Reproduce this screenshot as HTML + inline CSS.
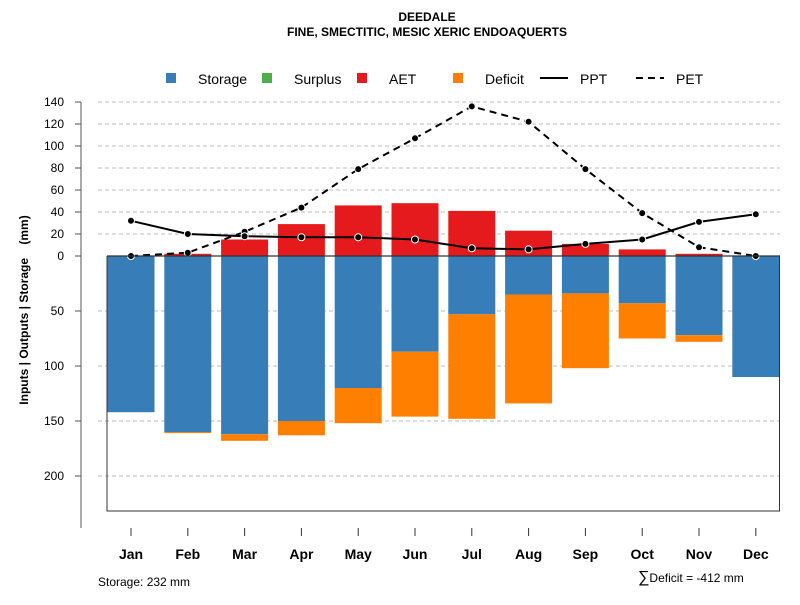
<!DOCTYPE html>
<html><head><meta charset="utf-8"><style>
body{margin:0;background:#fff;}
svg{font-family:"Liberation Sans",Arial,sans-serif;}
</style></head><body>
<svg id="chart" width="800" height="600" viewBox="0 0 800 600">
<text x="427" y="21" text-anchor="middle" font-size="12" font-weight="bold">DEEDALE</text>
<text x="427" y="36" text-anchor="middle" font-size="12" font-weight="bold">FINE, SMECTITIC, MESIC XERIC ENDOAQUERTS</text>
<g id="legend">
<g><rect x="166" y="73" width="10" height="10" fill="#377EB8"/><text x="198" y="84" font-size="14">Storage</text></g>
<g><rect x="262" y="73" width="10" height="10" fill="#4DAF4A"/><text x="294" y="84" font-size="14">Surplus</text></g>
<g><rect x="357" y="73" width="10" height="10" fill="#E41A1C"/><text x="389" y="84" font-size="14">AET</text></g>
<g><rect x="453" y="73" width="10" height="10" fill="#FF7F00"/><text x="485" y="84" font-size="14">Deficit</text></g>
<g><line x1="540" y1="78" x2="568" y2="78" stroke="#000" stroke-width="2"/><text x="580" y="84" font-size="14">PPT</text></g>
<g><line x1="636" y1="78" x2="664" y2="78" stroke="#000" stroke-width="2" stroke-dasharray="7,5"/><text x="676" y="84" font-size="14">PET</text></g>
</g>
<g id="grid"></g><g id="bars"></g><g id="lines"></g><g id="axes"></g>
<text transform="translate(28,310) rotate(-90)" text-anchor="middle" font-size="12" font-weight="bold">Inputs | Outputs | Storage &#160;&#160; (mm)</text>
<text x="98" y="586" font-size="12">Storage: 232 mm</text>
<text x="638" y="582" font-size="12"><tspan font-size="16">∑</tspan>Deficit = -412 mm</text>
</svg>
<script>
const months=["Jan","Feb","Mar","Apr","May","Jun","Jul","Aug","Sep","Oct","Nov","Dec"];
const storage=[142,160,162,150,120,87,53,35,34,43,72,110];
const deficit=[0,1,6,13,32,59,95,99,68,32,6,0];
const aet=[0,2,15,29,46,48,41,23,11,6,2,0];
const ppt=[32,20,18,17,17,15,7,6,11,15,31,38];
const pet=[0,3,22,44,79,107,136,122,79,39,8,0];
const upperTicks=[0,20,40,60,80,100,120,140];
const lowerTicks=[50,100,150,200];
const NS="http://www.w3.org/2000/svg";
const y0=256,k=1.1;
function yUp(v){return y0-v*k;}
function yDn(v){return y0+v*k;}
function xC(i){return 131+i*56.8;}
const bw=47;
function mk(t,a,p){const e=document.createElementNS(NS,t);for(const n in a)e.setAttribute(n,a[n]);document.getElementById(p).appendChild(e);return e;}
// grid
upperTicks.concat([]).forEach(v=>{if(v>0){const l=mk('line',{x1:98,x2:780,y1:yUp(v),y2:yUp(v),stroke:'#bbb','stroke-dasharray':'4,3'},'grid');

}});
lowerTicks.forEach(v=>{const l=mk('line',{x1:98,x2:780,y1:yDn(v),y2:yDn(v),stroke:'#bbb','stroke-dasharray':'4,3'},'grid');

});
// bars
months.forEach((m,i)=>{
 const x=xC(i)-bw/2;
 const s=mk('rect',{x:x,y:y0,width:bw,height:storage[i]*k,fill:'#377EB8'},'bars');
 
 
 if(deficit[i]>0){const d=mk('rect',{x:x,y:yDn(storage[i]),width:bw,height:deficit[i]*k,fill:'#FF7F00'},'bars');
 
 }
 if(aet[i]>0){const a=mk('rect',{x:x,y:yUp(aet[i]),width:bw,height:aet[i]*k,fill:'#E41A1C'},'bars');
 
 }
});
// box and zero line
const bx=mk('path',{d:'M107,256 V511 H779.5 V256',fill:'none',stroke:'#333','stroke-width':1},'axes');


const z=mk('line',{x1:107,x2:780,y1:y0,y2:y0,stroke:'#333','stroke-width':1.2},'axes');


// lines
function series(arr,dash,name){
 const pts=arr.map((v,i)=>xC(i)+','+yUp(v)).join(' ');
 const p=mk('polyline',{points:pts,fill:'none',stroke:'#000','stroke-width':2,'stroke-dasharray':dash},'lines');
 
 
 arr.forEach((v,i)=>{const c=mk('circle',{cx:xC(i),cy:yUp(v),r:3.5,fill:'#000',stroke:'#fff','stroke-width':1},'lines');
 
 });
}
series(pet,'7,5','pet');
series(ppt,'none','ppt');
// y axis
const ya=mk('line',{x1:81,x2:81,y1:yUp(140),y2:528,stroke:'#555','stroke-width':1},'axes');


function ytick(y,lab){const t=mk('line',{x1:75,x2:81,y1:y,y2:y,stroke:'#555'},'axes');


const tx=mk('text',{x:64,y:y+4,'text-anchor':'end','font-size':12},'axes');tx.textContent=lab;

}
upperTicks.forEach(v=>ytick(yUp(v),v));
lowerTicks.forEach(v=>ytick(yDn(v),v));
// x axis
months.forEach((m,i)=>{
 const t=mk('line',{x1:xC(i),x2:xC(i),y1:528,y2:536,stroke:'#333'},'axes');
 
 
 const tx=mk('text',{x:xC(i),y:559,'text-anchor':'middle','font-size':14,'font-weight':'bold'},'axes');tx.textContent=m;
 
 
});
</script>
</body></html>
